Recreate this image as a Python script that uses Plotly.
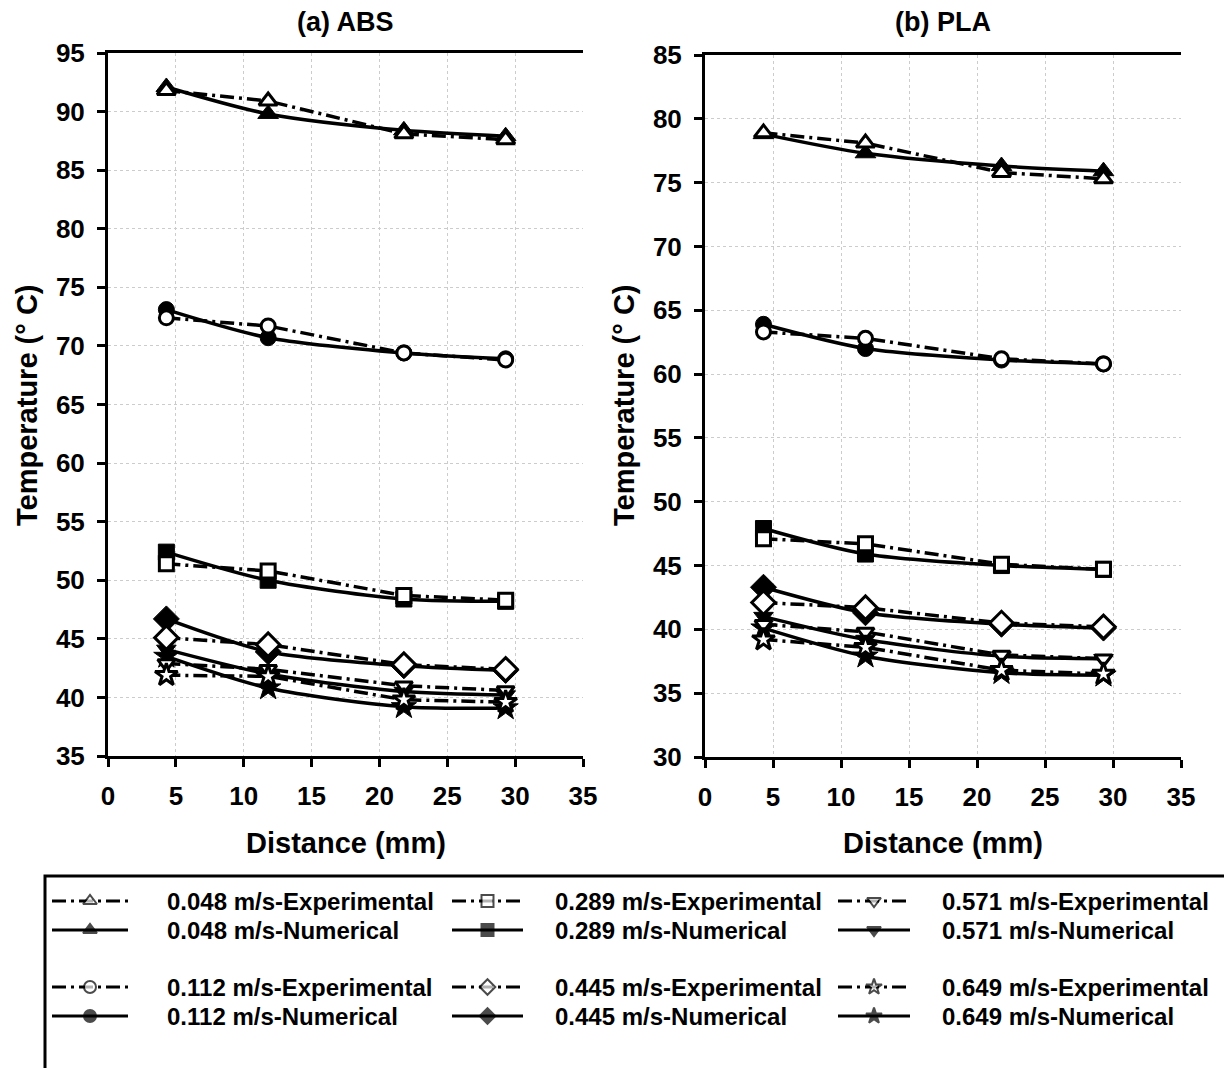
import plotly.graph_objects as go

# Distance of the measuring points from the nozzle (mm)
distance = [4.3, 11.8, 21.8, 29.3]

speeds = ["0.048", "0.112", "0.289", "0.445", "0.571", "0.649"]
symbols = ["triangle-up", "circle", "square", "diamond", "triangle-down", "star"]
plot_sizes = [18, 16, 16, 20, 17, 19]

# (a) ABS temperatures (°C)
abs_exp_048 = [91.8, 90.9, 88.1, 87.6]
abs_num_048 = [92.1, 89.8, 88.4, 87.9]
abs_exp_112 = [72.4, 71.7, 69.4, 68.8]
abs_num_112 = [73.1, 70.7, 69.4, 68.9]
abs_exp_289 = [51.4, 50.8, 48.7, 48.3]
abs_num_289 = [52.4, 50.0, 48.4, 48.2]
abs_exp_445 = [45.1, 44.5, 42.8, 42.4]
abs_num_445 = [46.7, 43.9, 42.7, 42.3]
abs_exp_571 = [42.9, 42.4, 41.0, 40.6]
abs_num_571 = [44.1, 42.0, 40.5, 40.2]
abs_exp_649 = [41.9, 41.8, 39.8, 39.6]
abs_num_649 = [43.5, 40.8, 39.2, 39.1]

# (b) PLA temperatures (°C)
pla_exp_048 = [78.9, 78.1, 75.8, 75.3]
pla_num_048 = [78.8, 77.3, 76.3, 75.9]
pla_exp_112 = [63.3, 62.8, 61.2, 60.8]
pla_num_112 = [63.9, 62.0, 61.1, 60.8]
pla_exp_289 = [47.1, 46.7, 45.1, 44.7]
pla_num_289 = [47.9, 45.9, 45.0, 44.7]
pla_exp_445 = [42.1, 41.7, 40.5, 40.2]
pla_num_445 = [43.3, 41.3, 40.4, 40.1]
pla_exp_571 = [40.4, 39.8, 38.0, 37.7]
pla_num_571 = [41.0, 39.2, 37.9, 37.7]
pla_exp_649 = [39.2, 38.6, 36.8, 36.5]
pla_num_649 = [40.1, 37.9, 36.6, 36.4]

abs_exp = [abs_exp_048, abs_exp_112, abs_exp_289, abs_exp_445, abs_exp_571, abs_exp_649]
abs_num = [abs_num_048, abs_num_112, abs_num_289, abs_num_445, abs_num_571, abs_num_649]
pla_exp = [pla_exp_048, pla_exp_112, pla_exp_289, pla_exp_445, pla_exp_571, pla_exp_649]
pla_num = [pla_num_048, pla_num_112, pla_num_289, pla_num_445, pla_num_571, pla_num_649]

x_ticks = [0, 5, 10, 15, 20, 25, 30, 35]
abs_y_ticks = list(range(35, 96, 5))
pla_y_ticks = list(range(30, 86, 5))

W, H = 1224, 1068
FONT = "Liberation Sans, Arial, sans-serif"
DASHDOT = "14px,5px,3px,5px"

fig = go.Figure()


def add_panel(exp_sets, num_sets, xa, ya):
    # numerical first (solid, smoothed), experimental on top (dash-dot, open markers)
    for i in range(len(speeds)):
        fig.add_trace(go.Scatter(
            x=distance, y=num_sets[i], mode="lines+markers",
            line=dict(color="black", width=3.5, shape="spline", smoothing=0.8),
            marker=dict(symbol=symbols[i], size=plot_sizes[i], color="black",
                        line=dict(color="black", width=1)),
            xaxis=xa, yaxis=ya, showlegend=False,
            name=speeds[i] + " m/s-Numerical"))
    for i in range(len(speeds)):
        fig.add_trace(go.Scatter(
            x=distance, y=exp_sets[i], mode="lines+markers",
            line=dict(color="black", width=3.5, dash=DASHDOT),
            marker=dict(symbol=symbols[i], size=plot_sizes[i] - 2, color="white",
                        line=dict(color="black", width=3)),
            xaxis=xa, yaxis=ya, showlegend=False,
            name=speeds[i] + " m/s-Experimental"))


add_panel(abs_exp, abs_num, "x", "y")
add_panel(pla_exp, pla_num, "x2", "y2")

# legend glyphs on a full-page overlay axis measured in pixels
legend_rows = [(901, 930), (987, 1016)]
legend_cols = [(52, 128, 165), (452, 523, 553), (838, 910, 940)]
for k, sp in enumerate(speeds):
    grp, col = k % 2, k // 2
    x0, x1, tx = legend_cols[col]
    y_exp, y_num = legend_rows[grp]
    xm = (x0 + x1) / 2
    for y_row, dash, fill, label in [(y_exp, DASHDOT, "white", "Experimental"),
                                     (y_num, "solid", "black", "Numerical")]:
        fig.add_trace(go.Scatter(
            x=[x0, xm, x1], y=[y_row, y_row, y_row], mode="lines+markers",
            line=dict(color="black", width=3, dash=dash),
            marker=dict(symbol=symbols[k], size=[0, 12, 0], color=fill,
                        line=dict(color="black", width=2)),
            xaxis="x3", yaxis="y3", showlegend=False, hoverinfo="skip"))
        fig.add_annotation(x=tx, y=y_row, xref="x3", yref="y3",
                           text=f"{sp} m/s-{label}", showarrow=False,
                           xanchor="left", yanchor="middle",
                           font=dict(family=FONT, size=24, color="black", weight="bold"))

axis_common = dict(
    showline=True, linecolor="black", linewidth=3,
    ticks="outside", ticklen=8, tickwidth=3, tickcolor="black",
    showgrid=True, gridcolor="#cccccc", gridwidth=1, griddash="dot",
    zeroline=False, automargin=False, ticklabelstandoff=7,
    tickfont=dict(family=FONT, size=26, color="black", weight="bold"),
)

fig.update_layout(
    width=W, height=H,
    margin=dict(l=0, r=0, t=0, b=0),
    paper_bgcolor="white", plot_bgcolor="rgba(0,0,0,0)",
    showlegend=False,
    xaxis=dict(axis_common, domain=[108 / W, 583 / W], range=[0, 35],
               tickvals=x_ticks, mirror=True, anchor="y"),
    yaxis=dict(axis_common, domain=[1 - 756 / H, 1 - 53 / H], range=[35, 95],
               tickvals=abs_y_ticks, anchor="x"),
    xaxis2=dict(axis_common, domain=[705 / W, 1181 / W], range=[0, 35],
                tickvals=x_ticks, mirror=True, anchor="y2"),
    yaxis2=dict(axis_common, domain=[1 - 757 / H, 1 - 55 / H], range=[30, 85],
                tickvals=pla_y_ticks, anchor="x2"),
    xaxis3=dict(domain=[0, 1], range=[0, W], visible=False, anchor="y3"),
    yaxis3=dict(domain=[0, 1], range=[H, 0], visible=False, anchor="x3"),
)

title_font = dict(family=FONT, size=27, color="black", weight="bold")
axis_title_font = dict(family=FONT, size=29, color="black", weight="bold")
for cx, ttl in [(345.5, "(a) ABS"), (943, "(b) PLA")]:
    fig.add_annotation(x=cx / W, y=1 - 22 / H, xref="paper", yref="paper",
                       text=ttl, showarrow=False, font=title_font,
                       xanchor="center", yanchor="middle")
    fig.add_annotation(x=cx / W, y=1 - 843 / H, xref="paper", yref="paper",
                       text="Distance (mm)", showarrow=False, font=axis_title_font,
                       xanchor="center", yanchor="middle")
for tx in [27, 624]:
    fig.add_annotation(x=tx / W, y=1 - 405 / H, xref="paper", yref="paper",
                       text="Temperature (° C)", textangle=-90, showarrow=False,
                       font=axis_title_font, xanchor="center", yanchor="middle")

# legend frame
fig.add_shape(type="rect", xref="paper", yref="paper",
              x0=45 / W, y0=-0.02, x1=1.02, y1=1 - 876 / H,
              line=dict(color="black", width=3), fillcolor="rgba(0,0,0,0)")

fig.write_html("out.html")
